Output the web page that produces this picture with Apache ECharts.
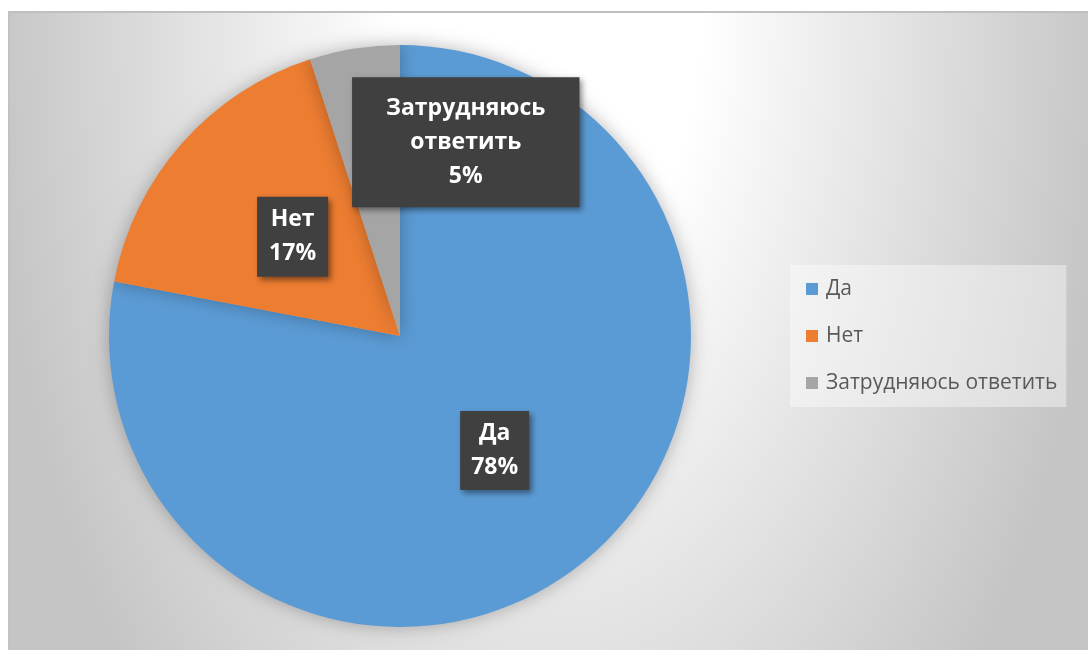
<!DOCTYPE html>
<html>
<head>
<meta charset="utf-8">
<script src="https://cdn.jsdelivr.net/npm/echarts@6/dist/echarts.min.js"></script>
<style>
  html, body { margin: 0; padding: 0; background: #fff; }
  #main { width: 1088px; height: 650px; }
</style>
</head>
<body>
<div id="main"></div>
<script>
var myChart = echarts.init(document.getElementById('main'));

// данные опроса
var categories = ['Да', 'Нет', 'Затрудняюсь ответить'];
var values = [78, 17, 5];
var colors = ['#5b9bd5', '#ed7d31', '#a5a5a5'];

// подписи: поля и сдвиг для каждой доли
var labelPad = [[6, 11, 5, 11], [6, 12, 6, 12], [14, 34, 14, 34]];
var labelShift = [[0, 0], [4, -1], [89, -47]];

var pieData = categories.map(function (name, i) {
    return {
        name: name,
        value: values[i],
        itemStyle: { color: colors[i] },
        label: { padding: labelPad[i], offset: labelShift[i] }
    };
});

// фон: эллиптический градиент (растянутый по вертикали круг)
var k = 0.56;
option = {
    backgroundColor: '#fff',
    animation: false,
    graphic: [
        {
            type: 'rect', z: -10, silent: true,
            x: 0, y: 15, scaleY: 1 / k,
            shape: { x: 8, y: (11 - 15) * k, width: 1080, height: (650 - 11) * k + 2 },
            style: {
                fill: {
                    type: 'radial', x: 549, y: 0, r: 560, global: true,
                    colorStops: [
                        { offset: 0, color: '#ffffff' },
                        { offset: 0.27, color: '#ffffff' },
                        { offset: 1, color: '#c5c5c5' }
                    ]
                }
            }
        },
        {
            type: 'line', z: -9, silent: true,
            shape: { x1: 8, y1: 12, x2: 1088, y2: 12 },
            style: { stroke: '#bfbfbf', lineWidth: 2 }
        },
        {
            type: 'line', z: -9, silent: true,
            shape: { x1: 9, y1: 12, x2: 9, y2: 650 },
            style: { stroke: '#c2c2c2', lineWidth: 2 }
        }
    ],
    legend: {
        orient: 'vertical',
        left: 790,
        top: 265,
        padding: [13, 9, 13, 16],
        backgroundColor: 'rgba(255,255,255,0.4)',
        itemWidth: 12,
        itemHeight: 12,
        itemGap: 25,
        icon: 'rect',
        data: categories,
        textStyle: {
            color: '#595959',
            fontFamily: 'Open Sans',
            fontSize: 21,
            lineHeight: 22,
            padding: [0, 0, 0, 3]
        }
    },
    series: [
        {
            name: 'Ответы',
            type: 'pie',
            center: [400, 336],
            radius: [0, 291],
            startAngle: 90,
            clockwise: true,
            avoidLabelOverlap: false,
            itemStyle: {
                borderWidth: 0,
                shadowBlur: 18,
                shadowColor: 'rgba(0,0,0,0.28)'
            },
            label: {
                show: true,
                position: 'inside',
                formatter: function (p) {
                    return p.name.replace(' ', '\n') + '\n' + Math.round(p.percent) + '%';
                },
                color: '#ffffff',
                fontFamily: 'Open Sans',
                fontWeight: 'bold',
                fontSize: 23,
                lineHeight: 34,
                backgroundColor: '#404040',
                shadowColor: 'rgba(0,0,0,0.45)',
                shadowBlur: 6,
                shadowOffsetX: 3,
                shadowOffsetY: 3
            },
            labelLine: { show: false },
            data: pieData
        }
    ]
};
myChart.setOption(option);
</script>
</body>
</html>
